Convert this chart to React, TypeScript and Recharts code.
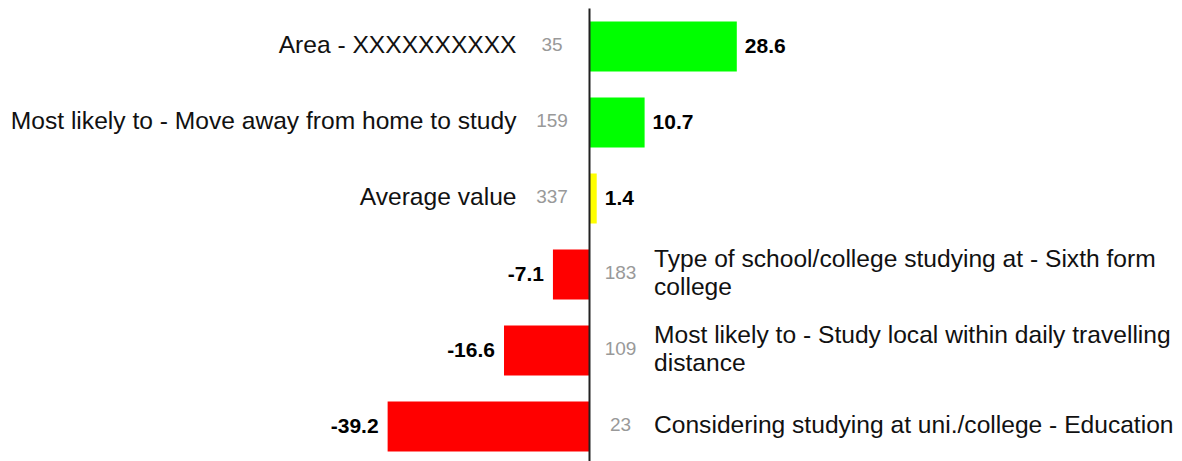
import React from 'react';
import { BarChart, Bar, XAxis, YAxis, ReferenceLine } from 'recharts';

const categories: string[] = [
  'Area - XXXXXXXXXX',
  'Most likely to - Move away from home to study',
  'Average value',
  'Type of school/college studying at - Sixth form college',
  'Most likely to - Study local within daily travelling distance',
  'Considering studying at uni./college - Education',
];
const values: number[] = [28.6, 10.7, 1.4, -7.1, -16.6, -39.2];
const counts: number[] = [35, 159, 337, 183, 109, 23];
const barColors: string[] = ['#00ff00', '#00ff00', '#ffff00', '#ff0000', '#ff0000', '#ff0000'];

const data = categories.map((name, i) => ({
  name,
  value: values[i],
  count: counts[i],
  color: barColors[i],
}));

const LABEL_FONT = '"Liberation Sans", Arial, sans-serif';
const LABEL_SIZE = 24.6;
const COUNT_SIZE = 19;
const VALUE_FONT = '"Liberation Sans", Arial, sans-serif';
const VALUE_SIZE = 21;
const LINE_H = 28.6;

let ctx: CanvasRenderingContext2D | null = null;
function measure(text: string): number {
  if (!ctx) ctx = document.createElement('canvas').getContext('2d');
  if (!ctx) return text.length * LABEL_SIZE * 0.46;
  ctx.font = `${LABEL_SIZE}px "Liberation Sans"`;
  return ctx.measureText(text).width;
}
function wrap(text: string, maxW: number): string[] {
  const words = text.split(' ');
  const lines: string[] = [];
  let cur = '';
  for (const w of words) {
    const test = cur ? cur + ' ' + w : w;
    if (cur && measure(test) > maxW) {
      lines.push(cur);
      cur = w;
    } else {
      cur = test;
    }
  }
  if (cur) lines.push(cur);
  return lines;
}

const BarShape = (props: any) => {
  const { x, y, width, height, payload } = props;
  const left = Math.min(x, x + width);
  const right = Math.max(x, x + width);
  const w = right - left;
  const cy = y + height / 2;
  const positive = payload.value >= 0;
  const zero = positive ? left : right;
  const textY = cy - 2;
  let catNode: React.ReactNode;
  if (positive) {
    catNode = (
      <text x={zero - 73} y={textY} textAnchor="end" dominantBaseline="central"
        fontFamily={LABEL_FONT} fontSize={LABEL_SIZE} fill="#111">{payload.name}</text>
    );
  } else {
    const lx = zero + 64.5;
    const lines = wrap(payload.name, 1180 - lx);
    const y0 = textY - ((lines.length - 1) * LINE_H) / 2;
    catNode = (
      <g>
        {lines.map((l, i) => (
          <text key={i} x={lx} y={y0 + i * LINE_H} textAnchor="start" dominantBaseline="central"
            fontFamily={LABEL_FONT} fontSize={LABEL_SIZE} fill="#111">{l}</text>
        ))}
      </g>
    );
  }
  return (
    <g>
      <rect x={left} y={y} width={w} height={height} fill={payload.color} />
      <text x={positive ? right + 8 : left - 9} y={cy - 1} textAnchor={positive ? 'start' : 'end'}
        dominantBaseline="central" fontFamily={VALUE_FONT} fontWeight="bold" fontSize={VALUE_SIZE} fill="#000">
        {payload.value.toFixed(1)}
      </text>
      <text x={positive ? zero - 37.5 : zero + 31} y={textY} textAnchor="middle" dominantBaseline="central"
        fontFamily={LABEL_FONT} fontSize={COUNT_SIZE} fill="#999">
        {payload.count}
      </text>
      {catNode}
    </g>
  );
};

export default function App() {
  return (
    <div style={{ position: 'absolute', left: 0, top: 0, width: 1182, height: 461, overflow: 'hidden', background: '#fff' }}>
      <BarChart
        width={1182}
        height={466}
        data={data}
        layout="vertical"
        margin={{ top: 8.5, right: 283.5, bottom: 1.5, left: 280.5 }}
        barSize={50}
      >
        <XAxis type="number" domain={[-60, 60]} hide />
        <YAxis type="category" dataKey="name" hide />
        <Bar dataKey="value" isAnimationActive={false} shape={BarShape} />
        <ReferenceLine x={0} stroke="#222" strokeWidth={2} ifOverflow="visible" />
      </BarChart>
    </div>
  );
}
